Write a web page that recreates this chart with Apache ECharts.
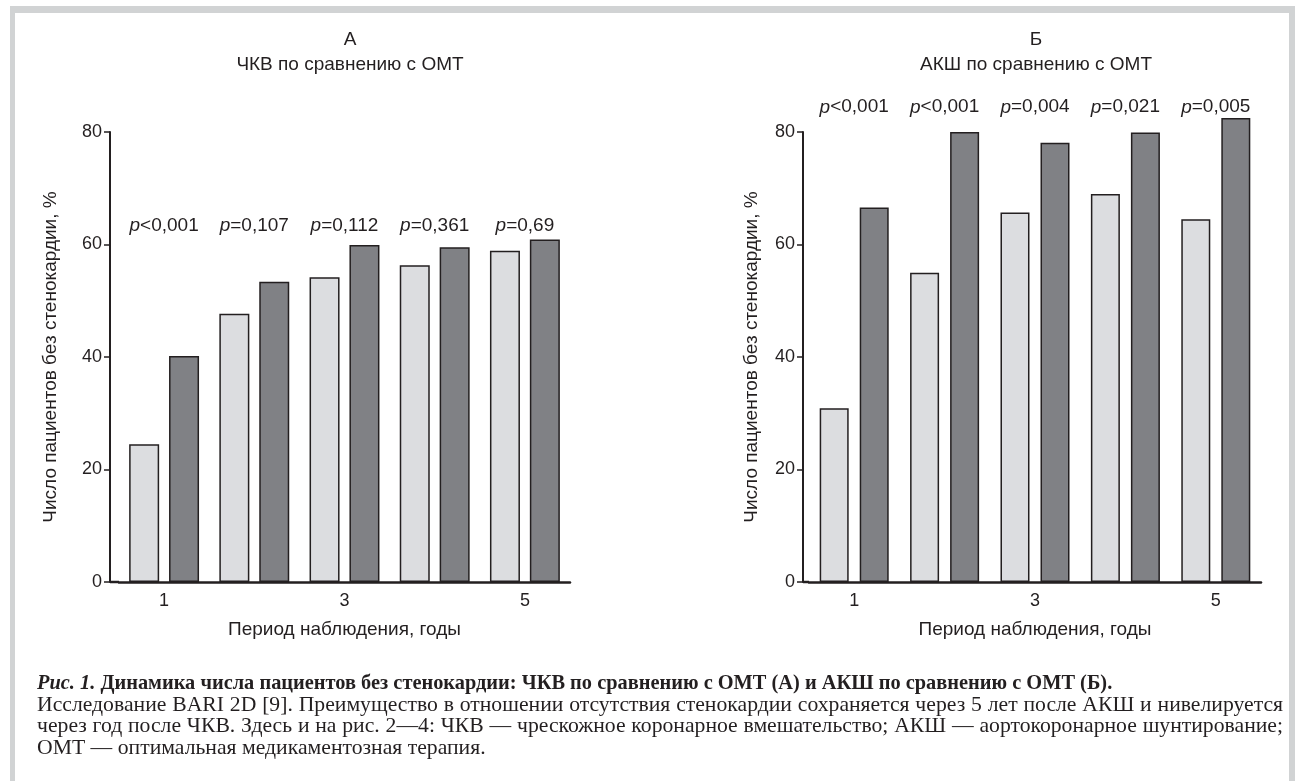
<!DOCTYPE html>
<html>
<head>
<meta charset="utf-8">
<script src="https://cdn.jsdelivr.net/npm/echarts@6/dist/echarts.min.js"></script>
<style>
  html, body { margin: 0; padding: 0; background: #fff; }
  #chart { position: absolute; left: 0; top: 0; width: 1295px; height: 781px; }
  #caption {
    position: absolute; left: 37px; top: 672px; width: 1246px;
    font-family: "Liberation Serif", "Times New Roman", serif;
    font-size: 20px; line-height: 21.5px; color: #231f20;
  }
  #caption div { white-space: nowrap; }
  #caption .j { text-align: justify; text-align-last: justify; white-space: normal; }
</style>
</head>
<body>
<div id="chart"></div>
<div id="caption">
  <div id="c1"><b><i>Рис. 1.</i> Динамика числа пациентов без стенокардии: ЧКВ по сравнению с ОМТ (А) и АКШ по сравнению с ОМТ (Б).</b></div>
  <div id="c2" class="j">Исследование BARI 2D [9]. Преимущество в отношении отсутствия стенокардии сохраняется через 5 лет после АКШ и нивелируется</div>
  <div id="c3" class="j">через год после ЧКВ. Здесь и на рис. 2—4: ЧКВ — чрескожное коронарное вмешательство; АКШ — аортокоронарное шунтирование;</div>
  <div id="c4">ОМТ — оптимальная медикаментозная терапия.</div>
</div>
<script>
  // данные
  var years = ['1', '2', '3', '4', '5'];
  var omtA = [24.5, 47.7, 54.2, 56.3, 58.9];
  var pciA = [40.2, 53.4, 59.9, 59.5, 60.9];
  var pA = ['<0,001', '=0,107', '=0,112', '=0,361', '=0,69'];
  var omtB = [30.9, 55.0, 65.7, 69.0, 64.5];
  var cabgB = [66.6, 80.0, 78.1, 79.9, 82.5];
  var pB = ['<0,001', '<0,001', '=0,004', '=0,021', '=0,005'];
  var yMin = 0, yMax = 80, yStep = 20;

  var ink = '#231f20';
  var sans = '"Liberation Sans", Arial, Helvetica, sans-serif';
  var lightFill = '#dcdde0', darkFill = '#808185';

  var grids = [
    { left: 119, top: 132, width: 451, height: 450, yOffset: 9, nameGap: 50 },
    { left: 809, top: 132, width: 452, height: 450, yOffset: 6, nameGap: 42 }
  ];

  // подпись: подгоняем кегль под ширину строк оригинала
  function naturalWidth(html, font) {
    var probe = document.createElement('span');
    probe.style.cssText = 'position:absolute;visibility:hidden;white-space:nowrap;font:' + font;
    probe.innerHTML = html;
    document.body.appendChild(probe);
    var w = probe.getBoundingClientRect().width;
    document.body.removeChild(probe);
    return w;
  }
  var serif = '"Liberation Serif", "Times New Roman", serif';
  var c1 = document.getElementById('c1');
  var c2 = document.getElementById('c2');
  var size1 = 20 * 1076 / naturalWidth(c1.innerHTML, '20px ' + serif);
  var size2 = 20 * 1240 / naturalWidth(c2.innerHTML, '20px ' + serif);
  c1.style.fontSize = size1 + 'px';
  ['c2', 'c3', 'c4'].forEach(function (id) { document.getElementById(id).style.fontSize = size2 + 'px'; });

  function xAxisOpt(i) {
    return {
      type: 'category', gridIndex: i, data: years,
      axisLine: { lineStyle: { color: ink, width: 2.5 } },
      axisTick: { inside: true, length: 6, interval: 0, lineStyle: { color: ink, width: 1.5 } },
      axisLabel: { interval: 1, margin: 10, color: ink, fontFamily: sans, fontSize: 18 },
      name: 'Период наблюдения, годы', nameLocation: 'middle', nameGap: 38,
      nameTextStyle: { color: ink, fontFamily: sans, fontSize: 19 }
    };
  }

  function yAxisOpt(i) {
    return {
      type: 'value', gridIndex: i, min: yMin, max: yMax, interval: yStep,
      offset: grids[i].yOffset,
      splitLine: { show: false },
      axisLine: { show: true, lineStyle: { color: ink, width: 2 } },
      axisTick: { show: true, length: 6, lineStyle: { color: ink, width: 1.5 } },
      axisLabel: { margin: 8, color: ink, fontFamily: sans, fontSize: 18 },
      name: 'Число пациентов без стенокардии, %', nameLocation: 'middle', nameGap: grids[i].nameGap,
      nameTextStyle: { color: ink, fontFamily: sans, fontSize: 19 }
    };
  }

  function barSeries(i, name, values, fill, width, gap) {
    return {
      type: 'bar', name: name, xAxisIndex: i, yAxisIndex: i, data: values,
      barWidth: width, barGap: gap, clip: false,
      itemStyle: { color: fill, borderColor: ink, borderWidth: 1.5 },
      emphasis: { disabled: true }
    };
  }

  function pSeries(i, pvals, level) {
    return {
      type: 'scatter', xAxisIndex: i, yAxisIndex: i, symbolSize: 0, clip: false,
      itemStyle: { opacity: 1 },
      data: pvals.map(function (p, k) { return { value: [k, level], p: p }; }),
      label: {
        show: true, position: 'inside', opacity: 1,
        formatter: function (d) { return '{i|p}{n|' + d.data.p + '}'; },
        rich: {
          i: { fontStyle: 'italic', fontFamily: sans, fontSize: 19, color: ink },
          n: { fontFamily: sans, fontSize: 19, color: ink }
        }
      },
      silent: true
    };
  }

  function titleText(x, y, text) {
    return { type: 'text', x: x, y: y, silent: true,
      style: { text: text, fill: ink, font: '19px ' + sans, align: 'center', verticalAlign: 'middle' } };
  }

  // короткий кусок базовой линии между осью Y и началом категорий
  function baseStub(g) {
    var y = g.top + g.height;
    return { type: 'line', silent: true,
      shape: { x1: g.left - g.yOffset, y1: y, x2: g.left, y2: y },
      style: { stroke: ink, lineWidth: 2.5 } };
  }

  var frame = '#d1d3d4';
  var chart = echarts.init(document.getElementById('chart'));
  chart.setOption({
    animation: false,
    grid: grids.map(function (g) { return { left: g.left, top: g.top, width: g.width, height: g.height }; }),
    xAxis: [xAxisOpt(0), xAxisOpt(1)],
    yAxis: [yAxisOpt(0), yAxisOpt(1)],
    series: [
      barSeries(0, 'ОМТ', omtA, lightFill, 30, '33%'),
      barSeries(0, 'ЧКВ', pciA, darkFill, 30, '33%'),
      pSeries(0, pA, 63.3),
      barSeries(1, 'ОМТ', omtB, lightFill, 29, '38%'),
      barSeries(1, 'АКШ', cabgB, darkFill, 29, '38%'),
      pSeries(1, pB, 84.4)
    ],
    graphic: [
      { type: 'rect', silent: true, shape: { x: 10, y: 6, width: 5, height: 775 }, style: { fill: frame } },
      { type: 'rect', silent: true, shape: { x: 10, y: 6, width: 1285, height: 7 }, style: { fill: frame } },
      { type: 'rect', silent: true, shape: { x: 1289, y: 6, width: 6, height: 775 }, style: { fill: frame } },
      titleText(350, 40, 'А'),
      titleText(350, 65, 'ЧКВ по сравнению с ОМТ'),
      titleText(1036, 40, 'Б'),
      titleText(1036, 65, 'АКШ по сравнению с ОМТ'),
      baseStub(grids[0]),
      baseStub(grids[1])
    ]
  });
</script>
</body>
</html>
